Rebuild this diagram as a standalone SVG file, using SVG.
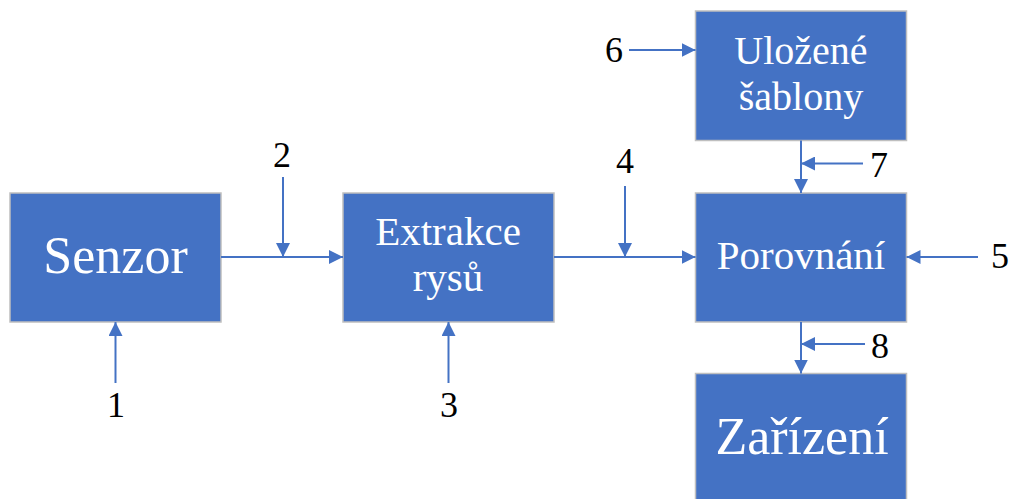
<svg xmlns="http://www.w3.org/2000/svg" width="1011" height="499" viewBox="0 0 1011 499">
<style>
.box{fill:#4472C4;stroke:#BFBFBF;stroke-width:1.5}
.t{font-family:'Liberation Serif',serif;fill:#FFFFFF;text-anchor:middle}
.n{font-family:'Liberation Serif',serif;fill:#000000;text-anchor:middle;font-size:36px}
.c{stroke:#4472C4;stroke-width:2;fill:none;marker-end:url(#ah)}
</style>
<defs>
<marker id="ah" markerUnits="userSpaceOnUse" markerWidth="14" markerHeight="14" refX="14" refY="7" orient="auto">
<path d="M0,0 L14,7 L0,14 z" fill="#4472C4"/>
</marker>
</defs>
<rect width="1011" height="499" fill="#FFFFFF"/>
<g id="senzor"><rect class="box" x="10" y="193" width="211" height="129"/><text class="t" x="115.5" y="273" font-size="52">Senzor</text></g>
<g id="extrakce"><rect class="box" x="343" y="193" width="211" height="129"/><text class="t" x="448" y="245" font-size="41">Extrakce</text><text class="t" x="448" y="291" font-size="41">rysů</text></g>
<g id="porovnani"><rect class="box" x="695.5" y="193" width="211" height="129"/><text class="t" x="801" y="269" font-size="41">Porovnání</text></g>
<g id="sablony"><rect class="box" x="695.5" y="11" width="211" height="129.5"/><text class="t" x="801" y="64" font-size="40">Uložené</text><text class="t" x="801" y="110" font-size="40">šablony</text></g>
<g id="zarizeni"><rect class="box" x="695.5" y="373.5" width="211" height="130"/><text class="t" x="802" y="454" font-size="52">Zařízení</text></g>
<g id="connectors">
<line class="c" x1="221" y1="257" x2="343" y2="257"/>
<line class="c" x1="554" y1="257" x2="695.5" y2="257"/>
<line class="c" x1="801" y1="140.5" x2="801" y2="193"/>
<line class="c" x1="801" y1="322" x2="801" y2="373.5"/>
<line class="c" x1="283" y1="177" x2="283" y2="257"/>
<line class="c" x1="625" y1="186" x2="625" y2="257"/>
<line class="c" x1="115.5" y1="383" x2="115.5" y2="322"/>
<line class="c" x1="448.5" y1="383" x2="448.5" y2="322"/>
<line class="c" x1="978" y1="257" x2="906.5" y2="257"/>
<line class="c" x1="629" y1="50" x2="695.5" y2="50"/>
<line class="c" x1="863" y1="163.5" x2="801" y2="163.5"/>
<line class="c" x1="865" y1="344" x2="801" y2="344"/>
</g>
<g id="labels">
<text class="n" x="116" y="417">1</text>
<text class="n" x="282" y="167">2</text>
<text class="n" x="449" y="417">3</text>
<text class="n" x="625" y="173">4</text>
<text class="n" x="1000" y="268">5</text>
<text class="n" x="614" y="62">6</text>
<text class="n" x="879" y="177">7</text>
<text class="n" x="880" y="358">8</text>
</g>
</svg>
